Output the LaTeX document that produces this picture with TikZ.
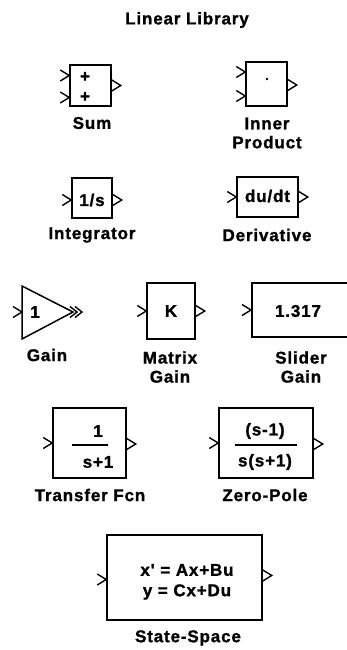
\documentclass[tikz,border=0pt]{standalone}
\usepackage{fontspec}
\setmainfont{Liberation Sans}
\newfontfamily\blkfont[LetterSpace=5,BoldFeatures={FakeBold=1.2}]{Liberation Sans}
\usetikzlibrary{positioning}

% chevron ports: tip of an input on the block edge, output starting at it
\newcommand{\pin}[2]{\draw[port] (#1) ++(-9,{#2-5.5}) -- ++(9,5.5) -- ++(-9,5.5);}
\newcommand{\pout}[2]{\draw[port] (#1) ++(0,{#2-5.5}) -- ++(9,5.5) -- ++(-9,5.5);}

\begin{document}
\begin{tikzpicture}
[
	x=1pt, y=-1pt,
	blk/.style={draw,line width=1.5pt,inner sep=0pt},
	txt/.style={font=\blkfont\bfseries\fontsize{17}{19}\selectfont,inner sep=0pt},
	lbl/.style={txt,align=center},
	port/.style={line width=1.4pt}
]

	\useasboundingbox (0,0) rectangle (347,650);
	\clip (0,0) rectangle (347,650);

	\node[lbl] at (187,20) (title) {Linear Library};

	% Sum
	\node[blk,minimum width=41pt,minimum height=41pt] at (90.5,85.5) (sum) {};
	\pin{sum.west}{-10}
	\pin{sum.west}{12}
	\pout{sum.east}{0}
	\node[txt] at (85,77) (sump1) {+};
	\node[txt] at (85,97) (sump2) {+};
	\node[lbl] at (92,123) (sumlbl) {Sum};

	% Inner Product
	\node[blk,minimum width=41pt,minimum height=44pt] at (266.5,84) (inner) {};
	\pin{inner.west}{-12}
	\pin{inner.west}{12}
	\pout{inner.east}{1}
	\fill (267,79) circle (1.4pt);
	\node[lbl] at (267,133) (innerlbl) {Inner\\Product};

	% Integrator
	\node[blk,minimum width=40pt,minimum height=40pt] at (92,198) (integ) {};
	\pin{integ.west}{2}
	\pout{integ.east}{2}
	\node[txt] at (92,200) (integtxt) {1/s};
	\node[lbl] at (92,235) (integlbl) {Integrator};

	% Derivative
	\node[blk,minimum width=61pt,minimum height=40pt] at (267.5,197) (deriv) {};
	\pin{deriv.west}{0}
	\pout{deriv.east}{0}
	\node[txt] at (267.5,196) (derivtxt) {du/dt};
	\node[lbl] at (267,235) (derivlbl) {Derivative};

	% Gain
	\coordinate (gtop) at (22,286);
	\coordinate (gbot) at (22,339);
	\coordinate (gtip) at (73,312);
	\draw[blk] (gtop) -- (gtip) -- (gbot) -- cycle;
	\pin{22,312}{0}
	\draw[port] (gtip) ++(-3,-5.5) -- ++(7,5.5) -- ++(-7,5.5);
	\draw[port] (gtip) ++(2,-5.5) -- ++(7,5.5) -- ++(-7,5.5);
	\node[txt] at (35,312) (gaintxt) {1};
	\node[lbl] at (47,355) (gainlbl) {Gain};

	% Matrix Gain
	\node[blk,minimum width=48pt,minimum height=56pt] at (171,311) (matrix) {};
	\pin{matrix.west}{0}
	\pout{matrix.east}{0}
	\node[txt] at (171,311) (matrixtxt) {K};
	\node[lbl] at (170,367) (matrixlbl) {Matrix\\Gain};

	% Slider Gain
	\node[blk,minimum width=110pt,minimum height=54pt,anchor=west] at (251,310) (slider) {};
	\pin{slider.west}{0}
	\node[txt] at (298,311) (slidertxt) {1.317};
	\node[lbl] at (301,367) (sliderlbl) {Slider\\Gain};

	% Transfer Fcn
	\node[blk,minimum width=73pt,minimum height=70pt] at (89.5,443) (tf) {};
	\pin{tf.west}{0}
	\pout{tf.east}{1}
	\node[txt] at (98,431) (tfnum) {1};
	\node[txt] at (98,462) (tfden) {s+1};
	\draw[port] (72,445) -- (108,445);
	\node[lbl] at (90,495) (tflbl) {Transfer Fcn};

	% Zero-Pole
	\node[blk,minimum width=94pt,minimum height=70pt] at (266,443) (zp) {};
	\pin{zp.west}{0}
	\pout{zp.east}{1}
	\node[txt] at (265,431) (zpnum) {(s-1)};
	\node[txt] at (265,462) (zpden) {s(s+1)};
	\draw[port] (235,445) -- (297,445);
	\node[lbl] at (265,495) (zplbl) {Zero-Pole};

	% State-Space
	\node[blk,minimum width=155pt,minimum height=85pt] at (184.5,577.5) (ss) {};
	\pin{ss.west}{2}
	\pout{ss.east}{-2}
	\node[txt] at (187,570) (ssx) {x' = Ax+Bu};
	\node[txt] at (187,592) (ssy) {y = Cx+Du};
	\node[lbl] at (188,638) (sslbl) {State-Space};

\end{tikzpicture}
\end{document}
